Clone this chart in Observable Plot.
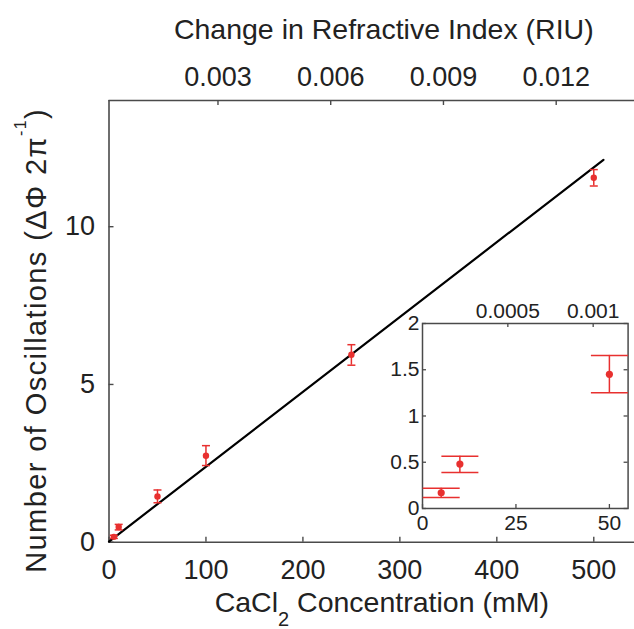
<!DOCTYPE html>
<html>
<head>
<meta charset="utf-8">
<script src="https://cdn.jsdelivr.net/npm/d3@7"></script>
<script src="https://cdn.jsdelivr.net/npm/@observablehq/plot@0.6"></script>
<style>
  html, body { margin: 0; padding: 0; background: white; overflow: hidden; }
  #chart { position: relative; width: 634px; height: 629px; }
  #inset { position: absolute; left: 381.7px; top: 298.3px; }
</style>
</head>
<body>
<div id="chart"><div id="inset"></div></div>
<script>
// ---- data ----
const concentration = [5, 10, 50, 100, 250, 500];          // mM
const oscillations  = [0.17, 0.48, 1.45, 2.74, 5.94, 11.55];
const errLower      = [0.12, 0.39, 1.25, 2.43, 5.61, 11.29];
const errUpper      = [0.22, 0.565, 1.655, 3.06, 6.26, 11.81];
const fitConcentration = [0, 510];
const fitOscillations  = [0.02, 12.12];

const xTicks = [0, 100, 200, 300, 400, 500];
const yTicks = [0, 5, 10];
const riuTicks = [0.003, 0.006, 0.009, 0.012];
const insetXTicks = [0, 25, 50];
const insetYTicks = [0, 0.5, 1, 1.5, 2];
const insetRiuTicks = [0.0005, 0.001];

// RIU <-> mM calibration
const riuOffset = 0.0001, riuPerMM = 2.58e-5, insetRiuPerMM = 2.19e-5;
const riuToMM = r => (r - riuOffset) / riuPerMM;
const insetRiuToMM = r => r / insetRiuPerMM;

const xTitle = "CaCl2 Concentration (mM)";
const yTitle = "Number of Oscillations (ΔΦ 2π-1)";
const topTitle = "Change in Refractive Index (RIU)";

// ---- styles ----
const red = "#e8302f";
const frameColor = "#4a4a4a";
const font = "'Liberation Sans', Arial, Helvetica, sans-serif";

const points = concentration.map((c, i) => ({c, y: oscillations[i], lo: errLower[i], hi: errUpper[i]}));
const fit = fitConcentration.map((c, i) => ({c, y: fitOscillations[i]}));
const insetPoints = points.filter(d => d.c <= 55);

const capSymbol = {
  draw(ctx, size) {
    const w = Math.sqrt(size / Math.PI);
    ctx.moveTo(-w, 0);
    ctx.lineTo(w, 0);
  }
};

// ---- main plot ----
const W = 634, H = 629, mL = 108.5, mR = 0, mT = 100, mB = 87.3;
const fW = W - mL - mR, fH = H - mT - mB;

const main = Plot.plot({
  width: W, height: H,
  marginLeft: mL, marginRight: mR, marginTop: mT, marginBottom: mB,
  x: {domain: [0, 542]},
  y: {domain: [0, 14]},
  style: {fontFamily: font, color: "#222", background: "white", overflow: "visible"},
  marks: [
    Plot.ruleX([0], {stroke: frameColor, strokeWidth: 1.6}),
    Plot.ruleY([0], {stroke: frameColor, strokeWidth: 1.6}),
    Plot.ruleY([14], {stroke: frameColor, strokeWidth: 1.6}),
    Plot.ruleX(xTicks, {stroke: frameColor, strokeWidth: 1.4, insetTop: fH - 5}),
    Plot.ruleX(riuTicks.map(riuToMM), {stroke: frameColor, strokeWidth: 1.4, insetBottom: fH - 5}),
    Plot.ruleY(yTicks, {stroke: frameColor, strokeWidth: 1.4, insetRight: fW - 5}),
    Plot.axisX(xTicks, {tickSize: 0, tickPadding: 18, fontSize: 27, label: null}),
    Plot.axisY(yTicks, {tickSize: 0, tickPadding: 14, fontSize: 27, label: null}),
    Plot.text(riuTicks, {x: riuToMM, text: d => String(d), frameAnchor: "top", dy: -15, lineAnchor: "bottom", fontSize: 27}),
    Plot.line(fit, {x: "c", y: "y", stroke: "black", strokeWidth: 2.2}),
    Plot.ruleX(points, {x: "c", y1: "lo", y2: "hi", stroke: red, strokeWidth: 1.5}),
    Plot.dot(points, {x: "c", y: "lo", symbol: capSymbol, r: 4, stroke: red, fill: "none", strokeWidth: 1.5}),
    Plot.dot(points, {x: "c", y: "hi", symbol: capSymbol, r: 4, stroke: red, fill: "none", strokeWidth: 1.5}),
    Plot.dot(points, {x: "c", y: "y", r: 3.2, fill: red}),
    Plot.text([topTitle], {frameAnchor: "top", textAnchor: "middle", dx: 12, dy: -61.5, lineAnchor: "bottom", fontSize: 28.5}),
    Plot.text([xTitle], {frameAnchor: "bottom", textAnchor: "middle", dx: 10, dy: 70, lineAnchor: "bottom", fontSize: 28.5}),
    Plot.text([yTitle], {frameAnchor: "left", textAnchor: "middle", rotate: -90, dx: -63.5, dy: 19, lineAnchor: "bottom", fontSize: 29})
  ]
});
document.getElementById("chart").insertBefore(main, document.getElementById("inset"));

// sub/superscripts
d3.select(main).selectAll("text").each(function () {
  const t = d3.select(this);
  if (this.textContent === xTitle) {
    t.text(null);
    t.append("tspan").text("CaCl");
    t.append("tspan").attr("dy", 14).attr("font-size", 20).text("2");
    t.append("tspan").attr("dy", -14).text(" Concentration (mM)");
  } else if (this.textContent === yTitle) {
    t.text(null).attr("letter-spacing", 1.4);
    t.append("tspan").text("Number of Oscillations (ΔΦ 2π");
    t.append("tspan").attr("dy", -20).attr("font-size", 16).text("-1");
    t.append("tspan").attr("dy", 20).text(")");
  }
});

// ---- inset ----
const iL = 40, iR = 6, iT = 25, iB = 30, iFW = 205.6, iFH = 185;
const inset = Plot.plot({
  width: iL + iFW + iR, height: iT + iFH + iB,
  marginLeft: iL, marginRight: iR, marginTop: iT, marginBottom: iB,
  x: {domain: [0, 55]},
  y: {domain: [0, 2]},
  style: {fontFamily: font, color: "#222", background: "transparent", overflow: "visible"},
  marks: [
    Plot.frame({fill: "white", stroke: frameColor, strokeWidth: 1.5}),
    Plot.ruleY(insetYTicks, {stroke: frameColor, strokeWidth: 1.3, insetRight: iFW - 4}),
    Plot.ruleY(insetYTicks, {stroke: frameColor, strokeWidth: 1.3, insetLeft: iFW - 4}),
    Plot.ruleX(insetXTicks, {stroke: frameColor, strokeWidth: 1.3, insetTop: iFH - 4}),
    Plot.ruleX(insetRiuTicks.map(insetRiuToMM), {stroke: frameColor, strokeWidth: 1.3, insetBottom: iFH - 4}),
    Plot.axisX(insetXTicks, {tickSize: 0, tickPadding: 7, fontSize: 21, label: null}),
    Plot.axisY(insetYTicks, {tickSize: 0, tickPadding: 3, fontSize: 21, label: null, tickFormat: d => String(d)}),
    Plot.text(insetRiuTicks, {x: insetRiuToMM, text: d => String(d), frameAnchor: "top", dy: -5, lineAnchor: "bottom", fontSize: 21}),
    Plot.ruleX(insetPoints, {x: "c", y1: "lo", y2: "hi", stroke: red, strokeWidth: 1.5}),
    Plot.dot(insetPoints, {x: "c", y: "lo", symbol: capSymbol, r: 18.5, stroke: red, fill: "none", strokeWidth: 1.5}),
    Plot.dot(insetPoints, {x: "c", y: "hi", symbol: capSymbol, r: 18.5, stroke: red, fill: "none", strokeWidth: 1.5}),
    Plot.dot(insetPoints, {x: "c", y: "y", r: 3.6, fill: red})
  ]
});
document.getElementById("inset").appendChild(inset);
</script>
</body>
</html>
